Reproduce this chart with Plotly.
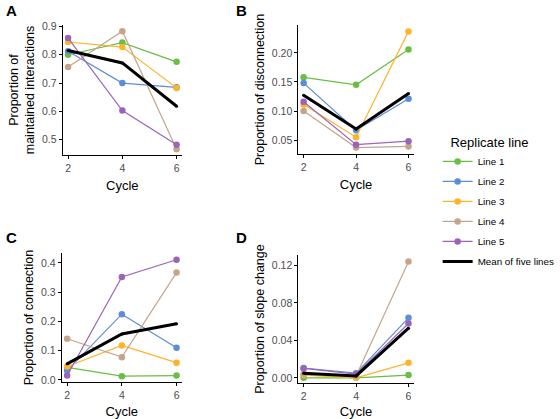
import plotly.graph_objects as go

cycles = [2, 4, 6]
line_names = ["Line 1", "Line 2", "Line 3", "Line 4", "Line 5"]
line_colors = ["#6BBE45", "#5B8ED6", "#FDB32A", "#C4A48A", "#9B64B8"]

# Panel A: proportion of maintained interactions
maintained = [
    [0.800, 0.843, 0.775],
    [0.812, 0.700, 0.685],
    [0.845, 0.827, 0.683],
    [0.757, 0.883, 0.466],
    [0.859, 0.603, 0.482],
]
maintained_mean = [0.815, 0.771, 0.618]

# Panel B: proportion of disconnection
disconnection = [
    [0.158, 0.145, 0.206],
    [0.148, 0.067, 0.121],
    [0.111, 0.055, 0.237],
    [0.100, 0.037, 0.039],
    [0.116, 0.042, 0.048],
]
disconnection_mean = [0.127, 0.069, 0.130]

# Panel C: proportion of connection
connection = [
    [0.043, 0.013, 0.015],
    [0.032, 0.225, 0.110],
    [0.046, 0.118, 0.059],
    [0.141, 0.078, 0.367],
    [0.015, 0.352, 0.411],
]
connection_mean = [0.055, 0.157, 0.192]

# Panel D: proportion of slope change
slope = [
    [0.000, 0.000, 0.003],
    [0.0105, 0.005, 0.064],
    [0.003, 0.000, 0.016],
    [0.004, 0.002, 0.124],
    [0.010, 0.004, 0.058],
]
slope_mean = [0.005, 0.002, 0.053]

panels = [
    ("A", maintained, maintained_mean, "Proportion of<br>maintained interactions",
     [0.5, 0.6, 0.7, 0.8, 0.9], ["0.5", "0.6", "0.7", "0.8", "0.9"], [0.446, 0.905]),
    ("B", disconnection, disconnection_mean, "Proportion of disconnection",
     [0.05, 0.10, 0.15, 0.20], ["0.05", "0.10", "0.15", "0.20"], [0.026, 0.248]),
    ("C", connection, connection_mean, "Proportion of connection",
     [0.0, 0.1, 0.2, 0.3, 0.4], ["0.0", "0.1", "0.2", "0.3", "0.4"], [-0.007, 0.434]),
    ("D", slope, slope_mean, "Proportion of slope change",
     [0.0, 0.04, 0.08, 0.12], ["0.00", "0.04", "0.08", "0.12"], [-0.0055, 0.131]),
]

W, H = 560, 419
# pixel boxes: (left, right, top, bottom)
boxes = [(63, 183, 25, 155), (300, 416, 25, 154), (62, 183, 253, 382), (300, 416, 255, 383)]
label_pos = [(4, 10), (235, 10), (4, 237), (235, 237)]

FONT = "Liberation Sans, Arial, Helvetica, sans-serif"
fig = go.Figure()
layout = {}
annotations = []

for i, (lab, series, mean, ytitle, tv, tt, yr) in enumerate(panels):
    n = i + 1
    xa = "x" if n == 1 else f"x{n}"
    ya = "y" if n == 1 else f"y{n}"
    for j in range(5):
        fig.add_trace(go.Scatter(
            x=cycles, y=series[j], mode="lines+markers", name=line_names[j],
            line=dict(color=line_colors[j], width=1.2),
            marker=dict(color=line_colors[j], size=6.5),
            xaxis=xa, yaxis=ya, showlegend=(i == 0), legendgroup=line_names[j],
        ))
    fig.add_trace(go.Scatter(
        x=cycles, y=mean, mode="lines+markers", name="Mean of five lines",
        line=dict(color="black", width=3), marker=dict(color="black", size=3),
        xaxis=xa, yaxis=ya, showlegend=(i == 0), legendgroup="mean",
    ))
    l, r, t, b = boxes[i]
    xkey = "xaxis" if n == 1 else f"xaxis{n}"
    ykey = "yaxis" if n == 1 else f"yaxis{n}"
    common = dict(showline=True, linecolor="black", linewidth=1, ticks="outside",
                  ticklen=3, tickcolor="black", tickwidth=1, showgrid=False, zeroline=False,
                  automargin=False,
                  tickfont=dict(size=10.5, color="#4D4D4D", family=FONT))
    layout[xkey] = dict(domain=[l / W, r / W], range=[1.8, 6.2], tickvals=[2, 4, 6],
                        ticktext=["2", "4", "6"], anchor=ya,
                        title=dict(text="Cycle", font=dict(size=13, color="black", family=FONT), standoff=8),
                        **common)
    layout[ykey] = dict(domain=[1 - b / H, 1 - t / H], range=yr, tickvals=tv, ticktext=tt,
                        anchor=xa,
                        title=dict(text=ytitle, font=dict(size=12.5, color="black", family=FONT), standoff=4),
                        **common)
    lx, ly = label_pos[i]
    annotations.append(dict(text=f"<b>{lab}</b>", x=lx / W, y=1 - ly / H,
                            xref="paper", yref="paper",
                            xanchor="left", yanchor="middle", showarrow=False,
                            font=dict(size=15, color="black", family=FONT)))

fig.update_layout(
    width=W, height=H, margin=dict(l=0, r=0, t=0, b=0),
    paper_bgcolor="white", plot_bgcolor="white",
    font=dict(family=FONT, color="black"),
    annotations=annotations,
    legend=dict(x=440 / W, y=1 - 130 / H, xanchor="left", yanchor="top",
                title=dict(text="&nbsp;&nbsp;&nbsp;Replicate line", font=dict(size=13)),
                font=dict(size=9.8), itemwidth=30, tracegroupgap=1,
                bgcolor="rgba(0,0,0,0)"),
    **layout,
)
fig.write_html("out.html", config={"displayModeBar": False},
               post_script="document.body.style.margin='0';")
